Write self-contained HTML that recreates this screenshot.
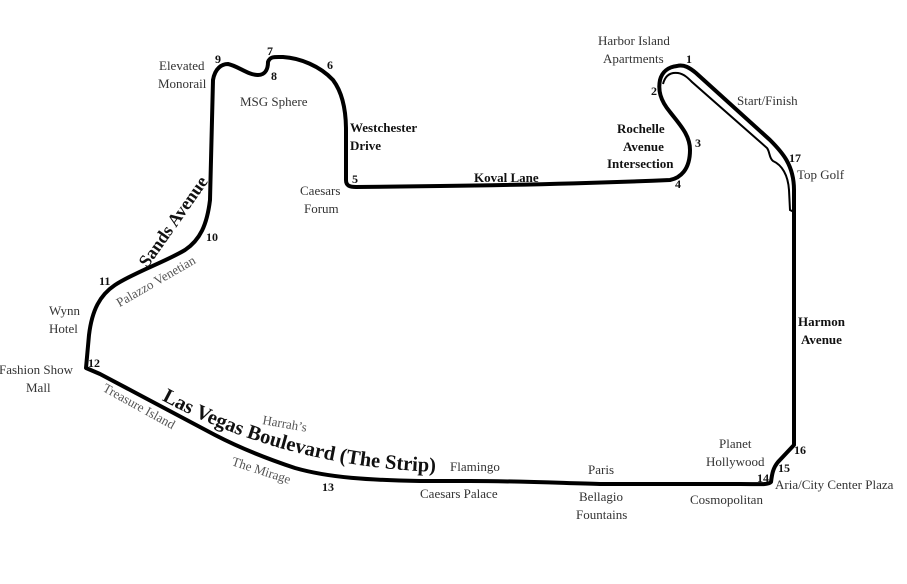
<!DOCTYPE html>
<html><head><meta charset="utf-8"><style>
html,body{margin:0;padding:0;background:#fff;width:907px;height:584px;overflow:hidden}
svg{display:block}
text{font-family:"Liberation Serif",serif;fill:#333;font-size:13px}
.b{font-weight:bold;fill:#111}
.n{font-weight:bold;fill:#111;font-size:12px}
</style></head><body>
<svg width="907" height="584" viewBox="0 0 907 584">
<defs>
<path id="strip" d="M156,397 Q285,468 442,472"/>
</defs>
<path d="M677,66 C684,64 690,68 696,73 L770,140 C782,152 794,165 794,190 L794,445 L778,462 C773,468 772,474 771,482 C768,485 760,484 740,484 L600,484 C560,483 520,481 470,481 L420,481 C370,480 330,478 295,468 C265,458 240,448 215,435 C190,422 140,395 100,374 L86,368 L89,335 C92,310 100,295 115,285 C135,272 165,262 185,250 C200,240 207,225 210,200 L213,80 C215,68 222,64 228,64 C238,66 248,75 258,75 C266,75 268,68 268,62 C270,56 275,57 283,57 C300,58 320,66 333,80 C342,92 346,108 346,130 L346,180 C346,186 350,187 356,187 L440,186 C520,185 600,183 670,180 C680,178 690,170 690,150 C690,135 680,125 670,112 C660,100 658,90 660,80 C662,72 668,67 677,66 Z" fill="none" stroke="#000" stroke-width="4" stroke-linejoin="round"/>
<path d="M663,84 C665,76 670,72 678,73 C684,74 688,78 692,82 L767,148 C770,152 769,158 773,161 C782,165 788,175 789,190 L790,210 L794,212" fill="none" stroke="#000" stroke-width="2"/>
<text x="598" y="45">Harbor Island</text>
<text x="603" y="63">Apartments</text>
<text class="n" x="686" y="63">1</text>
<text class="n" x="651" y="95">2</text>
<text class="n" x="695" y="147">3</text>
<text class="n" x="675" y="188">4</text>
<text x="737" y="105">Start/Finish</text>
<text class="n" x="789" y="162">17</text>
<text x="797" y="179">Top Golf</text>
<text class="b" x="617" y="133">Rochelle</text>
<text class="b" x="623" y="151">Avenue</text>
<text class="b" x="607" y="168">Intersection</text>
<text class="b" x="474" y="182">Koval Lane</text>
<text class="n" x="352" y="183">5</text>
<text x="300" y="195">Caesars</text>
<text x="304" y="213">Forum</text>
<text class="b" x="350" y="132">Westchester</text>
<text class="b" x="350" y="150">Drive</text>
<text class="n" x="327" y="69">6</text>
<text class="n" x="267" y="55">7</text>
<text class="n" x="271" y="80">8</text>
<text class="n" x="215" y="63">9</text>
<text x="159" y="70">Elevated</text>
<text x="158" y="88">Monorail</text>
<text x="240" y="106">MSG Sphere</text>
<text class="b" transform="translate(178,225) rotate(-55)" text-anchor="middle" style="font-size:18px">Sands Avenue</text>
<text class="n" x="206" y="241">10</text>
<text class="n" x="99" y="285">11</text>
<text transform="translate(158,285) rotate(-30)" text-anchor="middle" style="font-size:13px;fill:#555">Palazzo Venetian</text>
<text x="49" y="315">Wynn</text>
<text x="49" y="333">Hotel</text>
<text class="n" x="88" y="367">12</text>
<text x="-1" y="374">Fashion Show</text>
<text x="26" y="392">Mall</text>
<text transform="translate(137,410) rotate(29)" text-anchor="middle" style="font-size:13px;fill:#555">Treasure Island</text>
<text class="b" style="font-size:20.5px"><textPath href="#strip" startOffset="50%" text-anchor="middle">Las Vegas Boulevard (The Strip)</textPath></text>
<text x="262" y="424" transform="rotate(10,262,424)" style="font-size:13px;fill:#555">Harrah’s</text>
<text x="231" y="465" transform="rotate(18,231,465)" style="font-size:13px;fill:#555">The Mirage</text>
<text class="n" x="322" y="491">13</text>
<text x="450" y="471">Flamingo</text>
<text x="420" y="498">Caesars Palace</text>
<text x="588" y="474">Paris</text>
<text x="579" y="501">Bellagio</text>
<text x="576" y="519">Fountains</text>
<text x="690" y="504">Cosmopolitan</text>
<text x="719" y="448">Planet</text>
<text x="706" y="466">Hollywood</text>
<text class="n" x="757" y="482">14</text>
<text class="n" x="778" y="472">15</text>
<text class="n" x="794" y="454">16</text>
<text x="775" y="489">Aria/City Center Plaza</text>
<text class="b" x="798" y="326">Harmon</text>
<text class="b" x="801" y="344">Avenue</text>
</svg>
</body></html>
